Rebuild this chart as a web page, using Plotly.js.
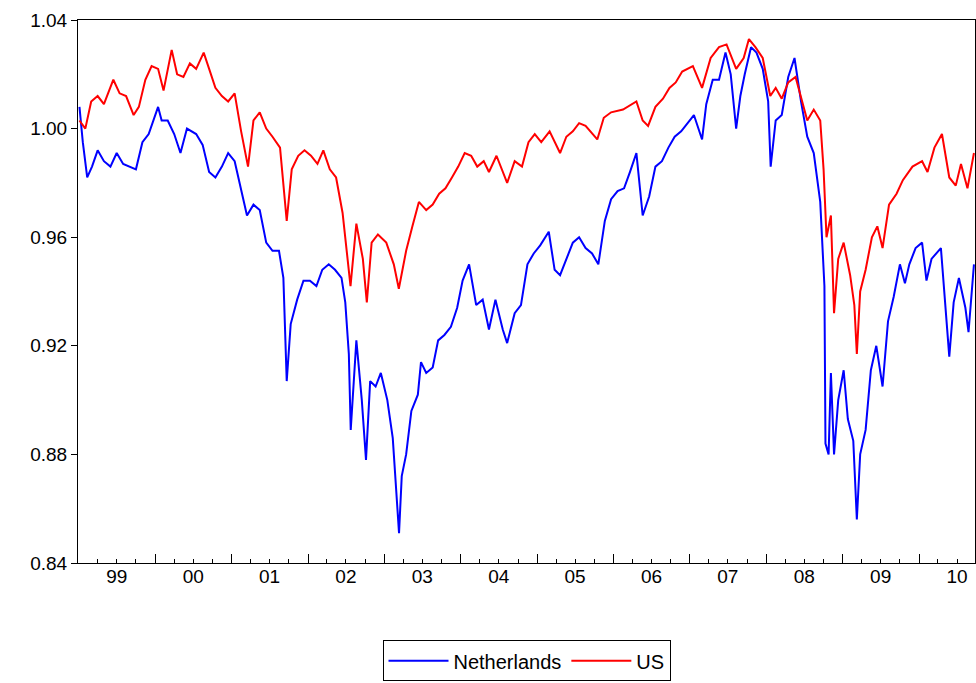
<!DOCTYPE html>
<html>
<head>
<meta charset="utf-8">
<script src="https://cdn.plot.ly/plotly-3.0.1.min.js"></script>
<style>html,body{margin:0;padding:0;background:#fff}#chart{width:976px;height:683px}</style>
</head>
<body>
<div id="chart"></div>
<script>
var nlDates = ['1999-01-04','1999-01-20','1999-02-10','1999-03-05','1999-04-01','1999-05-01','1999-06-01','1999-07-01','1999-08-01','1999-09-01','1999-10-01','1999-11-01','1999-12-01',
'2000-01-15','2000-02-01','2000-03-01','2000-04-01','2000-05-01','2000-06-01','2000-07-15','2000-08-15','2000-09-15','2000-10-15','2000-11-15','2000-12-15',
'2001-01-15','2001-02-15','2001-03-15','2001-04-15','2001-05-15','2001-06-15','2001-07-15','2001-08-15','2001-09-05','2001-09-21','2001-10-10','2001-11-10','2001-12-10',
'2002-01-10','2002-02-10','2002-03-10','2002-04-10','2002-05-10','2002-06-10','2002-06-28','2002-07-15','2002-07-24','2002-08-20','2002-09-15','2002-10-05','2002-10-25','2002-11-20','2002-12-15',
'2003-01-15','2003-02-10','2003-03-12','2003-03-25','2003-04-15','2003-05-10','2003-06-10','2003-06-25','2003-07-20','2003-08-20','2003-09-15','2003-10-15','2003-11-15','2003-12-15',
'2004-01-10','2004-02-10','2004-03-15','2004-04-15','2004-05-15','2004-06-15','2004-07-20','2004-08-10','2004-09-15','2004-10-15','2004-11-15','2004-12-15',
'2005-01-15','2005-02-25','2005-03-25','2005-04-20','2005-05-20','2005-06-20','2005-07-20','2005-08-20','2005-09-20','2005-10-20','2005-11-20','2005-12-20',
'2006-01-20','2006-02-20','2006-03-20','2006-04-20','2006-05-20','2006-06-20','2006-07-20','2006-08-20','2006-09-20','2006-10-20','2006-11-20','2006-12-20',
'2007-01-20','2007-02-28','2007-03-20','2007-04-20','2007-05-20','2007-06-20','2007-07-15','2007-08-10','2007-08-30','2007-09-20','2007-10-20','2007-11-15','2007-12-15',
'2008-01-10','2008-01-22','2008-02-15','2008-03-15','2008-04-15','2008-05-15','2008-06-15','2008-07-15','2008-08-15','2008-09-15','2008-10-05','2008-10-10','2008-10-25','2008-11-05','2008-11-20','2008-12-10',
'2009-01-05','2009-01-25','2009-02-20','2009-03-09','2009-03-25','2009-04-20','2009-05-15','2009-06-10','2009-07-10','2009-08-05','2009-09-01','2009-10-01','2009-10-25','2009-11-15','2009-12-15',
'2010-01-15','2010-02-05','2010-03-01','2010-04-15','2010-05-25','2010-06-15','2010-07-10','2010-08-10','2010-08-25','2010-09-20'];
var nlValues = [1.008,0.995,0.982,0.986,0.992,0.988,0.986,0.991,0.987,0.986,0.985,0.995,0.998,
1.008,1.003,1.003,0.998,0.991,1.000,0.998,0.994,0.984,0.982,0.986,0.991,
0.988,0.978,0.968,0.972,0.970,0.958,0.955,0.955,0.945,0.907,0.928,0.937,0.944,
0.944,0.942,0.948,0.950,0.948,0.945,0.936,0.917,0.889,0.922,0.900,0.878,0.907,0.905,0.910,
0.900,0.886,0.851,0.872,0.880,0.896,0.902,0.914,0.910,0.912,0.922,0.924,0.927,0.934,
0.944,0.950,0.935,0.937,0.926,0.937,0.926,0.921,0.932,0.935,0.950,0.954,
0.957,0.962,0.948,0.946,0.952,0.958,0.960,0.956,0.954,0.950,0.966,0.974,
0.977,0.978,0.984,0.991,0.968,0.975,0.986,0.988,0.993,0.997,0.999,1.002,
1.005,0.996,1.009,1.018,1.018,1.028,1.020,1.000,1.012,1.020,1.030,1.028,1.022,
1.010,0.986,1.003,1.005,1.019,1.026,1.010,0.997,0.991,0.973,0.942,0.884,0.880,0.910,0.880,0.900,
0.911,0.893,0.885,0.856,0.880,0.889,0.911,0.920,0.905,0.929,0.938,0.950,0.943,0.950,0.956,
0.958,0.944,0.952,0.956,0.916,0.936,0.945,0.934,0.925,0.950];

var usDates = ['1999-01-04','1999-02-01','1999-03-01','1999-04-01','1999-05-01','1999-06-15','1999-07-15','1999-08-15','1999-09-20','1999-10-15','1999-11-15','1999-12-15',
'2000-01-15','2000-02-10','2000-03-20','2000-04-15','2000-05-15','2000-06-15','2000-07-15','2000-08-20','2000-09-15','2000-10-15','2000-11-15','2000-12-15',
'2001-01-15','2001-02-15','2001-03-20','2001-04-15','2001-05-15','2001-06-15','2001-07-15','2001-08-20','2001-09-21','2001-10-15','2001-11-15','2001-12-15',
'2002-01-15','2002-02-15','2002-03-15','2002-04-15','2002-05-15','2002-06-15','2002-07-23','2002-08-20','2002-09-20','2002-10-09','2002-11-01','2002-12-01',
'2003-01-10','2003-02-15','2003-03-11','2003-04-15','2003-05-15','2003-06-15','2003-07-20','2003-08-20','2003-09-20','2003-10-20','2003-11-20','2003-12-20',
'2004-01-20','2004-02-20','2004-03-20','2004-04-20','2004-05-15','2004-06-20','2004-08-10','2004-09-15','2004-10-20','2004-11-20','2004-12-20',
'2005-01-20','2005-03-01','2005-04-20','2005-05-20','2005-06-20','2005-07-20','2005-08-20','2005-10-15','2005-11-15','2005-12-20',
'2006-02-15','2006-04-20','2006-05-20','2006-06-15','2006-07-20','2006-08-25','2006-09-25','2006-10-25','2006-11-25',
'2007-01-15','2007-02-28','2007-04-10','2007-05-20','2007-06-25','2007-08-10','2007-09-15','2007-10-10','2007-11-10','2007-12-15',
'2008-01-20','2008-02-15','2008-03-15','2008-04-15','2008-05-20','2008-06-20','2008-07-15','2008-08-15','2008-09-15','2008-10-01','2008-10-15','2008-11-05','2008-11-20','2008-12-10',
'2009-01-05','2009-02-05','2009-02-25','2009-03-09','2009-03-25','2009-04-20','2009-05-20','2009-06-15','2009-07-10','2009-08-10','2009-09-15','2009-10-15','2009-11-30',
'2010-01-15','2010-02-10','2010-03-15','2010-04-20','2010-05-25','2010-06-25','2010-07-20','2010-08-20','2010-09-20'];
var usValues = [1.003,1.000,1.010,1.012,1.009,1.018,1.013,1.012,1.005,1.008,1.018,1.023,
1.022,1.014,1.029,1.020,1.019,1.024,1.022,1.028,1.022,1.015,1.012,1.010,
1.013,0.999,0.986,1.003,1.006,1.000,0.997,0.993,0.966,0.985,0.990,0.992,
0.990,0.987,0.992,0.985,0.982,0.969,0.942,0.965,0.952,0.936,0.958,0.961,
0.958,0.950,0.941,0.955,0.964,0.973,0.970,0.972,0.976,0.978,0.982,0.986,
0.991,0.990,0.986,0.988,0.984,0.990,0.980,0.988,0.986,0.995,0.998,
0.995,0.999,0.991,0.997,0.999,1.002,1.001,0.996,1.004,1.006,
1.007,1.010,1.003,1.001,1.008,1.011,1.015,1.017,1.021,
1.023,1.015,1.026,1.030,1.031,1.022,1.026,1.033,1.030,1.026,
1.012,1.015,1.011,1.017,1.019,1.010,1.003,1.007,1.003,0.985,0.960,0.968,0.932,0.952,
0.958,0.946,0.935,0.917,0.940,0.948,0.960,0.964,0.956,0.972,0.976,0.981,0.986,
0.988,0.984,0.993,0.998,0.982,0.979,0.987,0.978,0.991];

var yearStarts = ['2000-01-01','2001-01-01','2002-01-01','2003-01-01','2004-01-01','2005-01-01','2006-01-01','2007-01-01','2008-01-01','2009-01-01','2010-01-01'];
var yearMids = ['1999-07-01','2000-07-01','2001-07-01','2002-07-01','2003-07-01','2004-07-01','2005-07-01','2006-07-01','2007-07-01','2008-07-01','2009-07-01','2010-07-01'];
var yearLabels = ['99','00','01','02','03','04','05','06','07','08','09','10'];

var xRange = ['1998-12-28','2010-09-25'];

var data = [
  {x: nlDates, y: nlValues, name: 'Netherlands', type: 'scatter', mode: 'lines',
   line: {color: '#0000ff', width: 2}},
  {x: usDates, y: usValues, name: 'US', type: 'scatter', mode: 'lines',
   line: {color: '#ff0000', width: 2}}
];

var layout = {
  width: 976, height: 683,
  margin: {l: 78, r: 1, t: 20, b: 120},
  font: {family: 'Liberation Sans, Arial, sans-serif', size: 19, color: '#000'},
  paper_bgcolor: '#fff', plot_bgcolor: '#fff',
  showlegend: true,
  legend: {orientation: 'h', x: 0.5, xanchor: 'center', y: -0.18, yanchor: 'middle',
    bordercolor: '#000', borderwidth: 1, font: {size: 20}, itemwidth: 60,
    tracegroupgap: 0},
  xaxis: {
    type: 'date', range: xRange, showgrid: false, zeroline: false,
    showline: true, mirror: true, linecolor: '#000', linewidth: 1,
    tickmode: 'array', tickvals: yearStarts, ticktext: yearStarts.map(function () { return ''; }),
    ticks: 'inside', ticklen: 9, tickcolor: '#000',
    minor: {dtick: 'M3', tick0: '1999-01-01', ticks: 'inside', ticklen: 4, tickcolor: '#000', showgrid: false}
  },
  xaxis2: {
    type: 'date', range: xRange, overlaying: 'x', anchor: 'y', side: 'bottom',
    showgrid: false, zeroline: false, showline: false,
    tickmode: 'array', tickvals: yearMids, ticktext: yearLabels, ticks: '',
    tickfont: {size: 19}
  },
  yaxis: {
    range: [0.84, 1.04], showgrid: false, zeroline: false,
    showline: true, mirror: true, linecolor: '#000', linewidth: 1,
    tickmode: 'array', tickvals: [0.84, 0.88, 0.92, 0.96, 1.00, 1.04],
    ticktext: ['0.84', '0.88', '0.92', '0.96', '1.00', '1.04'],
    ticks: 'outside', ticklen: 6, tickcolor: '#000', tickfont: {size: 19}
  }
};

// empty trace so the label axis is drawn
data.push({x: xRange, y: [null, null], xaxis: 'x2', yaxis: 'y', showlegend: false, hoverinfo: 'skip', mode: 'lines'});

Plotly.newPlot('chart', data, layout, {displayModeBar: false});
</script>
</body>
</html>
